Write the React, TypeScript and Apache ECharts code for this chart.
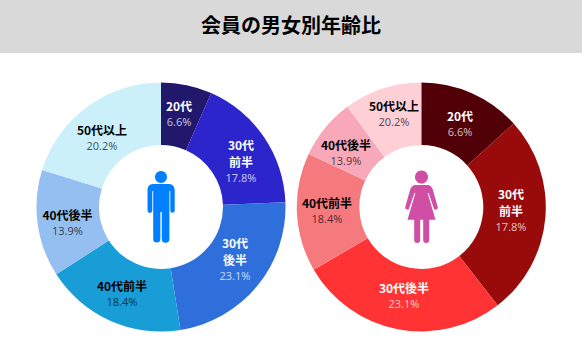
import React, { useEffect, useRef } from "react";
import * as echarts from "echarts";

const titleText = "会員の男女別年齢比";
const categories = ["20代", "30代前半", "30代後半", "40代前半", "40代後半", "50代以上"];
const maleLabels = ["20代", "30代\n前半", "30代\n後半", "40代前半", "40代後半", "50代以上"];
const femaleLabels = ["20代", "30代\n前半", "30代後半", "40代前半", "40代後半", "50代以上"];
const printedPercents = ["6.6%", "17.8%", "23.1%", "18.4%", "13.9%", "20.2%"];
const maleValues = [6.6, 17.8, 23.1, 18.4, 13.9, 20.2];
const femaleValues = [13.3, 26.2, 27.1, 15.4, 7.9, 10.1];

const maleColors = ["#21186b", "#2c25cb", "#2f6fdb", "#189dd6", "#94bff0", "#ccf0fa"];
const femaleColors = ["#520008", "#990a0a", "#ff3333", "#f57a7e", "#f8a8b8", "#ffcfd6"];
const lightText = [true, true, true, false, false, false];

const malePos = [[179, 112.5], [241, 160], [235, 258], [122, 292.5], [67.5, 221.5], [102, 136.5]];
const femalePos = [[460, 122.5], [511, 209], [404, 295], [327, 210], [346, 151.5], [394, 112.5]];

const manPath =
  "M153 184 H169 C173 184 174.7 187 174.7 190.5 V210.5 A2.2 2.2 0 0 1 170.3 210.5 V191 H169.4 V239 A3.4 3.4 0 0 1 161.8 239 V212 H160.4 V239 A3.4 3.4 0 0 1 153.2 239 V191 H152.3 V210.5 A2.2 2.2 0 0 1 147.5 210.5 V190.5 C147.5 187 149 184 153 184 Z";
const womanPath =
  "M415.5 185 H427.5 C430 185 431.8 187 432.8 189.5 L437.6 206.5 A1.9 1.9 0 0 1 433.9 208.5 L428.6 193 L427.6 193 L435.5 219.8 H429.2 V240 A2.9 2.9 0 0 1 423.2 240 V219.8 H420.2 V240 A2.9 2.9 0 0 1 414.2 240 V219.8 H407.5 L415.4 193 L414.4 193 L409.1 208.5 A1.9 1.9 0 0 1 405.4 206.5 L410.2 189.5 C411.2 187 413 185 415.5 185 Z";

echarts.graphic.registerShape("manBody", echarts.graphic.extendPath(manPath, {}));
echarts.graphic.registerShape("womanBody", echarts.graphic.extendPath(womanPath, {}));

function makePie(
  name: string,
  cx: number,
  values: number[],
  colors: string[],
  names: string[],
  pos: number[][],
  light: boolean[]
) {
  return {
    type: "pie",
    name,
    silent: true,
    center: [cx, 207],
    radius: [62, 124.5],
    startAngle: 90,
    clockwise: true,
    avoidLabelOverlap: false,
    labelLine: { show: false },
    labelLayout: (p: any) => ({
      x: pos[p.dataIndex][0],
      y: pos[p.dataIndex][1],
      align: "center",
      verticalAlign: "middle",
    }),
    data: values.map((v, i) => {
      const col = light[i] ? "#ffffff" : "#000000";
      const alt = light[i] ? "rgba(255,255,255,0.72)" : "rgba(0,0,0,0.68)";
      return {
        name: categories[i],
        value: v,
        itemStyle: { color: colors[i] },
        label: {
          show: true,
          position: "inside",
          align: "center",
          verticalAlign: "middle",
          fontFamily: "'Noto Sans CJK JP', 'Noto Sans', sans-serif",
          formatter: names[i]
            .split("\n")
            .map((l) => `{n|${l}}`)
            .join("\n") + `\n{p|${printedPercents[i]}}`,
          rich: {
            n: { fontSize: 12, fontWeight: "bold", color: col, lineHeight: 17, fontFamily: "'Noto Sans CJK JP', sans-serif" },
            p: { fontSize: 11, color: alt, lineHeight: 15, fontFamily: "'Noto Sans', sans-serif" },
          },
        },
      };
    }),
  };
}

export default function App() {
  const ref = useRef<HTMLDivElement>(null);
  useEffect(() => {
    const chart = echarts.init(ref.current!, undefined, { renderer: "svg", width: 582, height: 363 });
    chart.setOption({
      animation: false,
      backgroundColor: "#ffffff",
      title: {
        text: titleText,
        left: "center",
        top: 6,
        textStyle: {
          fontFamily: "'Noto Sans CJK JP', sans-serif",
          fontSize: 20,
          fontWeight: "bold",
          color: "#000000",
          lineHeight: 27,
        },
      },
      series: [
        makePie("男性", 161, maleValues, maleColors, maleLabels, malePos, lightText),
        makePie("女性", 421.3, femaleValues, femaleColors, femaleLabels, femalePos, lightText),
      ],
      graphic: [
        { type: "rect", z: -10, shape: { x: 0, y: 0, width: 582, height: 53 }, style: { fill: "#d9d9d9" } },
        { type: "circle", z: 10, shape: { cx: 161, cy: 177, r: 6 }, style: { fill: "#0080ff" } },
        { type: "manBody", z: 10, x: 0, y: 0, style: { fill: "#0080ff" } },
        { type: "circle", z: 10, shape: { cx: 421.5, cy: 177, r: 6.5 }, style: { fill: "#d04ea3" } },
        { type: "womanBody", z: 10, x: 0, y: 0, style: { fill: "#d04ea3" } },
      ],
    });
    return () => chart.dispose();
  }, []);
  return <div ref={ref} style={{ position: "absolute", left: 0, top: 0, width: 582, height: 363 }} />;
}
